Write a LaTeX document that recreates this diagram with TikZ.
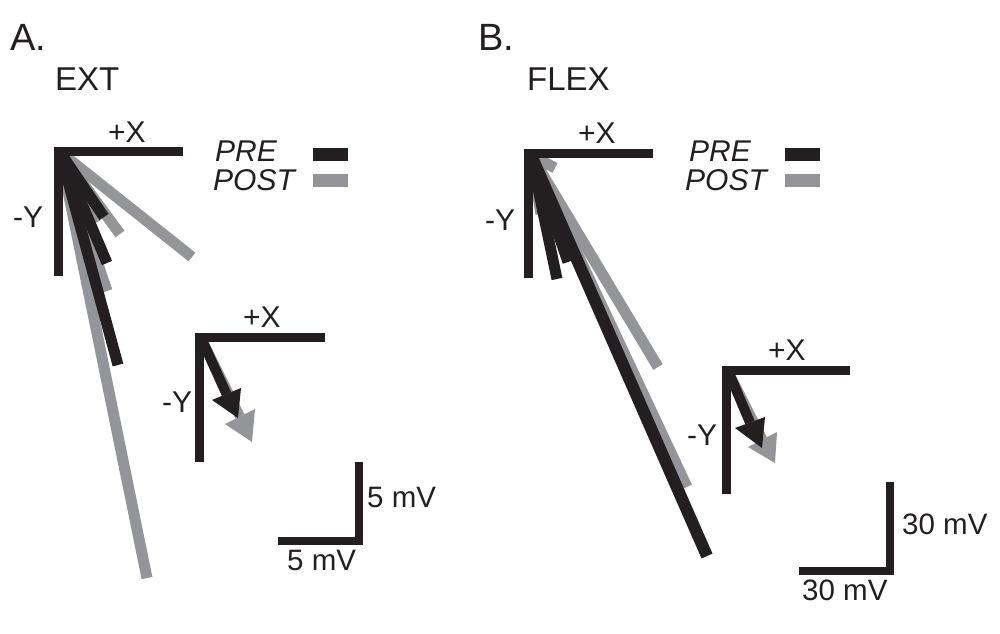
\documentclass[tikz,border=0pt]{standalone}
\usepackage{fontspec}
\setmainfont{Liberation Sans}
\definecolor{ink}{HTML}{231F20}
\definecolor{pale}{HTML}{939598}
\begin{document}
\begin{tikzpicture}[x=1pt,y=-1pt,
  axisline/.style={draw=ink,line width=9pt,line join=miter},
  scalebar/.style={draw=ink,line width=8.5pt,line join=miter},
  vecb/.style={draw=ink,line width=11pt},
  vecg/.style={draw=pale,line width=11pt},
  legbar/.style={line width=13pt},
  lbl/.style={inner sep=0pt,anchor=base west,text=ink},
  axlbl/.style={lbl,font=\fontsize{30}{36}\selectfont},
  ttl/.style={lbl,font=\fontsize{33}{40}\selectfont},
  panel/.style={lbl,font=\fontsize{38}{44}\selectfont},
  leg/.style={lbl,font=\fontsize{30}{36}\selectfont\itshape},
  mv/.style={lbl,font=\fontsize{29.5}{35}\selectfont},
  headb/.style={fill=ink},
  headg/.style={fill=pale}]
\useasboundingbox (0,0) rectangle (1000,633);

% ---------------- Panel A ----------------
\node[panel] (pA) at (10,50) {A.};
\node[ttl] (tA) at (55,90) {EXT};

\coordinate (oA) at (60,152);
\coordinate (ga1) at (192,257);
\coordinate (ga2) at (120,234);
\coordinate (ga8) at (95,223);
\coordinate (ga5) at (107,291);
\coordinate (ga7) at (147,578);
\coordinate (ba3) at (104,217);
\coordinate (ba4) at (107,263);
\coordinate (ba6) at (118,365);
\draw[vecg] (oA) -- (ga7);
\draw[vecg] (oA) -- (ga5);
\draw[vecg] (oA) -- (ga1);
\draw[vecg] (oA) -- (ga2);
\draw[vecg] (oA) -- (ga8);
\draw[vecb] (oA) -- (ba6);
\draw[vecb] (oA) -- (ba4);
\draw[vecb] (oA) -- (ba3);

\coordinate (axAy) at (58.5,276);
\coordinate (axAc) at (58.5,151);
\coordinate (axAx) at (183,151);
\draw[axisline] (axAy) -- (axAc) -- (axAx);
\node[axlbl] (xA) at (108,142) {+X};
\node[axlbl] (yA) at (13,227) {-Y};

\node[leg] (preA) at (215,161) {PRE};
\node[leg] (postA) at (213,190) {POST};
\coordinate (lbA1) at (313,154.5); \coordinate (lbA2) at (348,154.5);
\coordinate (lgA1) at (313,180.5); \coordinate (lgA2) at (348,180.5);
\draw[legbar,draw=ink] (lbA1) -- (lbA2);
\draw[legbar,draw=pale] (lgA1) -- (lgA2);

% inset A
\coordinate (iA) at (202,340);
\coordinate (iAgm) at (240,416.5);
\draw[draw=pale,line width=10pt] (iA) -- (iAgm);
\fill[headg] (225,424) -- (252,442) -- (255,409) -- cycle;
\coordinate (iAbm) at (226.5,394);
\draw[draw=ink,line width=10pt] (iA) -- (iAbm);
\fill[headb] (212,400) -- (238,418) -- (241,388) -- cycle;
\coordinate (iAy) at (199,462);
\coordinate (iAc) at (199,337);
\coordinate (iAx) at (325,337);
\draw[axisline] (iAy) -- (iAc) -- (iAx);
\node[axlbl] (xiA) at (243,327) {+X};
\node[axlbl] (yiA) at (162,412) {-Y};

% scale A
\coordinate (sA1) at (278,541);
\coordinate (sA2) at (359,541);
\coordinate (sA3) at (359,462);
\draw[scalebar] (sA1) -- (sA2) -- (sA3);
\node[mv] (mvA1) at (367,507) {5 mV};
\node[mv] (mvA2) at (287,570) {5 mV};

% ---------------- Panel B ----------------
\node[panel] (pB) at (478,50) {B.};
\node[ttl] (tB) at (527,90) {FLEX};

\coordinate (oB) at (531,155);
\coordinate (gbL) at (687,487);
\coordinate (gbM) at (658,367);
\coordinate (gbS) at (555,168);
\coordinate (gbT) at (541,214);
\coordinate (bbL) at (707,556);
\coordinate (bbM) at (568,262);
\coordinate (bbS) at (557,279);
\draw[vecg] (oB) -- (gbL);
\draw[vecg] (oB) -- (gbM);
\draw[vecg] (oB) -- (gbS);
\draw[vecg] (oB) -- (gbT);
\draw[vecb] (oB) -- (bbM);
\draw[vecb] (oB) -- (bbS);
\draw[vecb,line width=12pt] (oB) -- (bbL);

\coordinate (axBy) at (528,278);
\coordinate (axBc) at (528,153);
\coordinate (axBx) at (653,153);
\draw[axisline] (axBy) -- (axBc) -- (axBx);
\node[axlbl] (xB) at (578,143) {+X};
\node[axlbl] (yB) at (485,230) {-Y};

\node[leg] (preB) at (689,161) {PRE};
\node[leg] (postB) at (685,190) {POST};
\coordinate (lbB1) at (785,154.5); \coordinate (lbB2) at (820,154.5);
\coordinate (lgB1) at (785,180.5); \coordinate (lgB2) at (820,180.5);
\draw[legbar,draw=ink] (lbB1) -- (lbB2);
\draw[legbar,draw=pale] (lgB1) -- (lgB2);

% inset B
\coordinate (iB) at (729,373);
\coordinate (iBgm) at (762.5,439.5);
\draw[draw=pale,line width=10pt] (iB) -- (iBgm);
\fill[headg] (748,447) -- (775,463) -- (777,432) -- cycle;
\coordinate (iBbm) at (750,422.5);
\draw[draw=ink,line width=10pt] (iB) -- (iBbm);
\fill[headb] (735,428) -- (762,448) -- (765,417) -- cycle;
\coordinate (iBy) at (726,494);
\coordinate (iBc) at (726,370);
\coordinate (iBx) at (850,370);
\draw[axisline] (iBy) -- (iBc) -- (iBx);
\node[axlbl] (xiB) at (768,360) {+X};
\node[axlbl] (yiB) at (687,445) {-Y};

% scale B
\coordinate (sB1) at (799,571);
\coordinate (sB2) at (890,571);
\coordinate (sB3) at (890,482);
\draw[scalebar] (sB1) -- (sB2) -- (sB3);
\node[mv] (mvB1) at (902,534) {30 mV};
\node[mv] (mvB2) at (802,600) {30 mV};
\end{tikzpicture}
\end{document}
